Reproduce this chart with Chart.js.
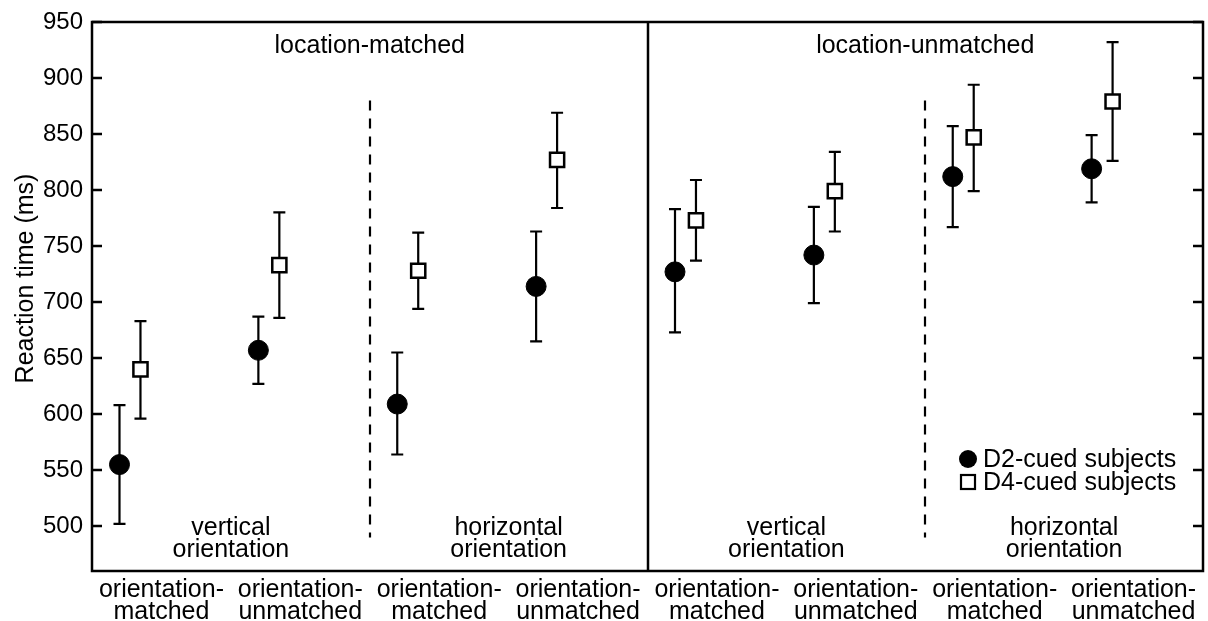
<!DOCTYPE html>
<html>
<head>
<meta charset="utf-8">
<script src="https://cdn.jsdelivr.net/npm/chart.js@4.4.0/dist/chart.umd.min.js"></script>
<style>
  body { margin: 0; background: #fff; }
</style>
</head>
<body>
<canvas id="chart" width="1208" height="621"></canvas>
<script>
// data
const xLabels = [
  ['orientation-', 'matched'], ['orientation-', 'unmatched'],
  ['orientation-', 'matched'], ['orientation-', 'unmatched'],
  ['orientation-', 'matched'], ['orientation-', 'unmatched'],
  ['orientation-', 'matched'], ['orientation-', 'unmatched']
];
const yTicks = [500, 550, 600, 650, 700, 750, 800, 850, 900, 950];

const d2Mean = [555, 657, 609, 714, 727, 742, 812, 819];
const d2Low = [502, 627, 564, 665, 673, 699, 767, 789];
const d2High = [608, 687, 655, 763, 783, 785, 857, 849];

const d4Mean = [640, 733, 728, 827, 773, 799, 847, 879];
const d4Low = [596, 686, 694, 784, 737, 763, 799, 826];
const d4High = [683, 780, 762, 869, 809, 834, 894, 932];

const seriesNames = ['D2-cued subjects', 'D4-cued subjects'];
const sectionLabels = ['location-matched', 'location-unmatched'];
const orientLabels = [
  ['vertical', 'orientation'], ['horizontal', 'orientation'],
  ['vertical', 'orientation'], ['horizontal', 'orientation']
];
const yTitle = 'Reaction time (ms)';

const FONT = '"Liberation Sans", Arial, sans-serif';
const d2Offset = 0.198;
const d4Offset = 0.349;

function points(means, off) {
  return means.map((v, i) => ({ x: i + off, y: v }));
}

const figurePlugin = {
  id: 'figure',
  beforeDatasetsDraw(chart) {
    const ctx = chart.ctx;
    const xs = chart.scales.x;
    const ys = chart.scales.y;
    ctx.save();
    ctx.strokeStyle = '#000';
    ctx.lineWidth = 2.2;
    // error bars
    const sets = [[d2Mean, d2Low, d2High, d2Offset], [d4Mean, d4Low, d4High, d4Offset]];
    sets.forEach(s => {
      s[0].forEach((m, i) => {
        const px = xs.getPixelForValue(i + s[3]);
        const top = ys.getPixelForValue(s[2][i]);
        const bot = ys.getPixelForValue(s[1][i]);
        ctx.beginPath();
        ctx.moveTo(px, top); ctx.lineTo(px, bot);
        ctx.moveTo(px - 6, top); ctx.lineTo(px + 6, top);
        ctx.moveTo(px - 6, bot); ctx.lineTo(px + 6, bot);
        ctx.stroke();
      });
    });
    // dashed separators
    ctx.setLineDash([10, 8]);
    [2, 6].forEach(v => {
      const px = Math.round(xs.getPixelForValue(v));
      ctx.beginPath();
      ctx.moveTo(px, ys.getPixelForValue(880));
      ctx.lineTo(px, ys.getPixelForValue(490));
      ctx.stroke();
    });
    ctx.restore();
  },
  afterDraw(chart) {
    const ctx = chart.ctx;
    const a = chart.chartArea;
    const xs = chart.scales.x;
    const ys = chart.scales.y;
    ctx.save();
    ctx.strokeStyle = '#000';
    ctx.lineWidth = 2.5;
    ctx.strokeRect(a.left, a.top, a.right - a.left, a.bottom - a.top);
    const mid = Math.round(xs.getPixelForValue(4));
    ctx.beginPath();
    ctx.moveTo(mid, a.top); ctx.lineTo(mid, a.bottom);
    // inward ticks on both sides
    yTicks.forEach(v => {
      const py = Math.round(ys.getPixelForValue(v));
      ctx.moveTo(a.left, py); ctx.lineTo(a.left + 10, py);
      ctx.moveTo(a.right, py); ctx.lineTo(a.right - 10, py);
    });
    ctx.stroke();

    ctx.fillStyle = '#000';
    ctx.font = '25px ' + FONT;
    ctx.textAlign = 'center';
    ctx.textBaseline = 'middle';
    sectionLabels.forEach((t, i) => {
      ctx.fillText(t, xs.getPixelForValue(2 + i * 4), a.top + 24);
    });
    orientLabels.forEach((lines, i) => {
      const px = xs.getPixelForValue(1 + i * 2);
      ctx.fillText(lines[0], px, a.bottom - 43);
      ctx.fillText(lines[1], px, a.bottom - 21);
    });

    // legend
    const lx = a.right - 235;
    const ly = a.bottom - 112;
    ctx.beginPath();
    ctx.arc(lx, ly, 9, 0, Math.PI * 2);
    ctx.fill();
    ctx.fillStyle = '#fff';
    ctx.lineWidth = 2.2;
    ctx.fillRect(lx - 7, ly + 16, 14, 14);
    ctx.strokeRect(lx - 7, ly + 16, 14, 14);
    ctx.fillStyle = '#000';
    ctx.textAlign = 'left';
    ctx.fillText(seriesNames[0], lx + 15, ly + 1);
    ctx.fillText(seriesNames[1], lx + 15, ly + 24);

    // y title
    ctx.translate(26, (a.top + a.bottom) / 2 - 18);
    ctx.rotate(-Math.PI / 2);
    ctx.textAlign = 'center';
    ctx.fillText(yTitle, 0, 0);
    ctx.restore();
  }
};

new Chart(document.getElementById('chart'), {
  type: 'scatter',
  data: {
    datasets: [
      {
        label: seriesNames[0],
        data: points(d2Mean, d2Offset),
        pointStyle: 'circle',
        pointRadius: 10,
        backgroundColor: '#000',
        borderColor: '#000',
        borderWidth: 1
      },
      {
        label: seriesNames[1],
        data: points(d4Mean, d4Offset),
        pointStyle: 'rect',
        pointRadius: 10,
        backgroundColor: '#fff',
        borderColor: '#000',
        borderWidth: 2.5
      }
    ]
  },
  options: {
    responsive: false,
    animation: false,
    devicePixelRatio: 1,
    layout: { autoPadding: false, padding: { top: 22, right: 5, left: 0, bottom: 0 } },
    plugins: {
      legend: { display: false },
      tooltip: { enabled: false }
    },
    scales: {
      x: {
        type: 'linear',
        min: 0,
        max: 8,
        grid: { display: false, drawTicks: false },
        border: { display: false },
        afterBuildTicks: s => { s.ticks = xLabels.map((l, i) => ({ value: i + 0.5 })); },
        afterFit: s => { s.height = 50; s.paddingLeft = 0; s.paddingRight = 0; },
        ticks: {
          autoSkip: false,
          maxRotation: 0,
          padding: 8,
          color: '#000',
          font: { family: FONT, size: 25, lineHeight: 0.88 },
          callback: (v, i) => xLabels[i]
        }
      },
      y: {
        min: 460,
        max: 950,
        grid: { display: false, drawTicks: false },
        border: { display: false },
        afterBuildTicks: s => { s.ticks = yTicks.map(v => ({ value: v })); },
        afterFit: s => { s.width = 92; s.paddingTop = 0; s.paddingBottom = 0; },
        ticks: {
          padding: 9,
          color: '#000',
          font: { family: FONT, size: 24 }
        }
      }
    }
  },
  plugins: [figurePlugin]
});
</script>
</body>
</html>
